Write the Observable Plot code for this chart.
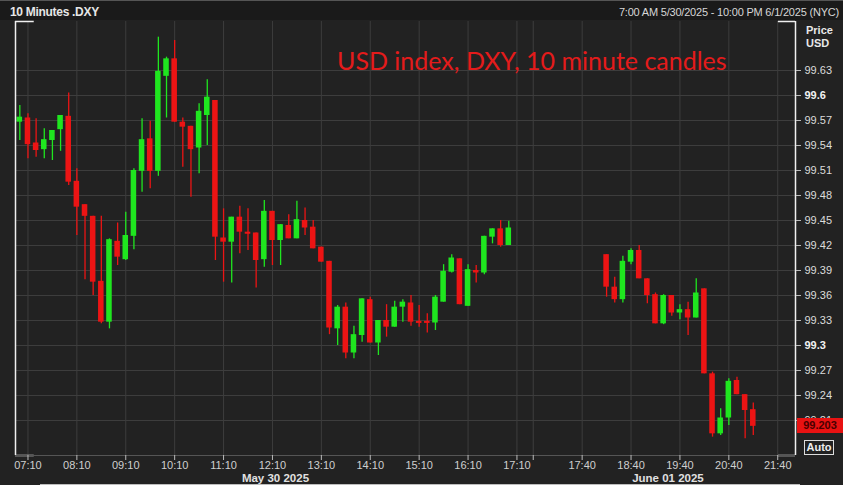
<!DOCTYPE html>
<html>
<head>
<meta charset="utf-8">
<script src="https://cdn.jsdelivr.net/npm/d3@7"></script>
<script src="https://cdn.jsdelivr.net/npm/@observablehq/plot@0.6"></script>
<style>
  html, body { margin: 0; padding: 0; background: #222; }
  #wrap { position: relative; width: 843px; height: 485px; overflow: hidden; background: #222; font-family: "Liberation Sans", Arial, sans-serif; }
  #hdr { position: absolute; left: 0; top: 0; width: 843px; height: 20px; background: #1a1a1a; border-top: 1px solid #555; box-sizing: border-box; }
  #hdr .l { position: absolute; left: 10px; top: 4px; font-size: 12px; font-weight: bold; color: #e6e6e6; letter-spacing: -0.3px; }
  #hdr .r { position: absolute; right: 4px; top: 5px; font-size: 11px; color: #d6d6d6; letter-spacing: -0.2px; }
  #chart { position: absolute; left: 0; top: 20px; }
  #title { position: absolute; left: 337px; top: 45px; font-family: Lato, sans-serif; font-size: 25px; color: #e41b1b; white-space: nowrap; }
  .ylab { position: absolute; left: 806px; font-size: 11px; font-weight: bold; color: #e8e8e8; }
  #last { position: absolute; left: 797px; width: 46px; height: 15px; background: #e81212; color: #4a0000; font-size: 11px; font-weight: bold; text-align: center; line-height: 15px; }
  #auto { position: absolute; left: 804px; top: 440px; width: 28px; height: 13px; border: 1px solid #ddd; color: #eee; font-size: 11px; font-weight: bold; text-align: center; line-height: 13px; }
  #strip { position: absolute; left: 40px; top: 483.5px; width: 760px; height: 2px; background: #bdbdbd; }
</style>
</head>
<body>
<div id="wrap">
  <div id="hdr"><span class="l">10 Minutes .DXY</span><span class="r">7:00 AM 5/30/2025 - 10:00 PM 6/1/2025 (NYC)</span></div>
  <div id="chart"></div>
  <div id="title">USD index, DXY, 10 minute candles</div>
  <div class="ylab" style="top:24px">Price</div>
  <div class="ylab" style="top:37px">USD</div>
  <div id="auto">Auto</div>
  <div id="strip"></div>
</div>
<script>
// ---- Data: 10-minute candles, Friday May 30 2025 (from 07:00) ----
const friStart = "07:00";
const friOpen  = [99.568,99.573,99.543,99.535,99.546,99.559,99.575,99.497,99.469,99.455,
                  99.377,99.328,99.425,99.403,99.431,99.509,99.548,99.509,99.623,99.644,
                  99.568,99.563,99.537,99.576,99.594,99.429,99.424,99.454,99.436,99.435,
                  99.403,99.461,99.426,99.444,99.428,99.450,99.442,99.418,99.401,99.320,
                  99.346,99.291,99.312,99.355,99.303,99.330,99.322,99.346,99.351,99.329,
                  99.329,99.327,99.352,99.388,99.404,99.347,99.390,99.387,99.430,99.440,
                  99.420];
const friHigh  = [99.588,99.578,99.572,99.560,99.558,99.576,99.603,99.512,99.469,99.455,
                  99.455,99.428,99.447,99.460,99.512,99.572,99.569,99.670,99.646,99.666,
                  99.573,99.563,99.590,99.619,99.594,99.464,99.454,99.467,99.464,99.435,
                  99.474,99.461,99.445,99.457,99.473,99.465,99.450,99.418,99.401,99.348,
                  99.351,99.323,99.356,99.358,99.330,99.349,99.353,99.355,99.360,99.348,
                  99.338,99.360,99.397,99.409,99.404,99.397,99.396,99.431,99.440,99.450,
                  99.449];
const friLow   = [99.546,99.524,99.526,99.524,99.522,99.533,99.492,99.432,99.379,99.360,
                  99.326,99.320,99.396,99.402,99.415,99.484,99.488,99.503,99.573,99.568,
                  99.514,99.478,99.506,99.540,99.402,99.376,99.375,99.410,99.414,99.369,
                  99.394,99.396,99.396,99.428,99.428,99.432,99.416,99.400,99.313,99.300,
                  99.284,99.284,99.304,99.303,99.288,99.310,99.322,99.328,99.323,99.322,
                  99.315,99.318,99.352,99.387,99.349,99.347,99.375,99.385,99.422,99.418,
                  99.420];
const friClose = [99.574,99.541,99.534,99.547,99.558,99.576,99.496,99.466,99.455,99.376,
                  99.328,99.427,99.406,99.432,99.510,99.547,99.509,99.629,99.644,99.568,
                  99.562,99.535,99.581,99.598,99.430,99.424,99.454,99.436,99.435,99.402,
                  99.461,99.426,99.445,99.428,99.451,99.441,99.416,99.400,99.321,99.346,
                  99.291,99.313,99.356,99.303,99.330,99.322,99.346,99.352,99.328,99.328,
                  99.328,99.358,99.389,99.405,99.349,99.391,99.387,99.431,99.440,99.420,
                  99.441];
// ---- Sunday June 01 2025 (from 18:10) ----
const sunStart = "18:10";
const sunOpen  = [99.409,99.370,99.355,99.400,99.414,99.380,99.361,99.326,99.360,99.339,
                  99.343,99.333,99.368,99.266,99.194,99.213,99.258,99.241,99.223];
const sunHigh  = [99.409,99.382,99.407,99.416,99.420,99.380,99.363,99.361,99.360,99.349,
                  99.352,99.380,99.368,99.268,99.224,99.260,99.262,99.241,99.231];
const sunLow   = [99.358,99.351,99.351,99.397,99.380,99.350,99.326,99.325,99.335,99.331,
                  99.312,99.333,99.266,99.190,99.192,99.204,99.241,99.188,99.192];
const sunClose = [99.370,99.355,99.401,99.414,99.380,99.360,99.326,99.360,99.339,99.343,
                  99.333,99.363,99.266,99.194,99.213,99.257,99.241,99.222,99.203];

// ---- Axis labels ----
const friTicks = ["07:10","08:10","09:10","10:10","11:10","12:10","13:10","14:10","15:10","16:10","17:10"];
const friBreak = ["17:30"];
const sunTicks = ["17:40","18:40","19:40","20:40","21:40"];
const dayLabels = ["May 30 2025", "June 01 2025"];
const yTicks = [99.21,99.24,99.27,99.3,99.33,99.36,99.39,99.42,99.45,99.48,99.51,99.54,99.57,99.6,99.63];
const yBold = [99.3, 99.6];

// ---- Build table (slot index; weekend gap compressed) ----
const mins = s => { const [h, m] = s.split(":").map(Number); return h * 60 + m; };
const SUN_SLOT0 = 72; // Sunday session's first slot after the compressed weekend gap
const friSlot = t => (mins(t) - mins(friStart)) / 10;
const sunSlot = t => SUN_SLOT0 + (mins(t) - mins(sunStart)) / 10;

const GREEN = "#1fe61f", RED = "#ec1414";
const candles = [];
friOpen.forEach((o, i) => candles.push({slot: i, o, h: friHigh[i], l: friLow[i], c: friClose[i]}));
sunOpen.forEach((o, i) => candles.push({slot: SUN_SLOT0 + i, o, h: sunHigh[i], l: sunLow[i], c: sunClose[i]}));
candles.forEach(d => {
  d.color = d.c >= d.o ? GREEN : RED;
  d.top = Math.max(d.o, d.c);
  d.bot = Math.min(d.o, d.c);
  if (d.top - d.bot < 0.0025) d.bot = d.top - 0.0025;
});

const tickSlots = friTicks.map(friSlot).concat(sunTicks.map(sunSlot));
const tickText = new Map(friTicks.map(t => [friSlot(t), t]).concat(sunTicks.map(t => [sunSlot(t), t])));
const gridSlots = tickSlots.concat(friBreak.map(friSlot));

const xDom = [-0.53, 95.18];
const yDom = [99.168, 99.6888];
const fmt = v => String(+v.toFixed(2));
const W = 843, H = 465;

const chart = Plot.plot({
  width: W, height: H,
  marginLeft: 15, marginRight: 48, marginTop: 1, marginBottom: 30,
  style: {background: "transparent", color: "#d8d8d8", fontFamily: "Liberation Sans, Arial, sans-serif", fontSize: "11px"},
  x: {domain: xDom, axis: null},
  y: {domain: yDom, axis: null},
  color: {type: "identity"},
  marks: [
    Plot.gridY(yTicks, {stroke: "#3d3d3d", strokeOpacity: 1}),
    Plot.gridX(gridSlots, {stroke: "#3d3d3d", strokeOpacity: 1}),
    Plot.ruleX(candles, {x: "slot", y1: "l", y2: "h", stroke: "color", strokeWidth: 1.3}),
    Plot.rect(candles, {x1: d => d.slot - 0.34, x2: d => d.slot + 0.34, y1: "bot", y2: "top", fill: "color"}),
    // frame: white vertical edges and corner marks
    Plot.ruleX(xDom, {stroke: "#f0f0f0", strokeWidth: 1.5}),
    Plot.ruleY([yDom[1]], {x1: xDom[0], x2: xDom[0] + 2.3, stroke: "#f0f0f0", strokeWidth: 1.5}),
    Plot.ruleY([yDom[1]], {x1: xDom[1] - 2.1, x2: xDom[1], stroke: "#f0f0f0", strokeWidth: 1.5}),
    Plot.ruleY([yDom[0]], {x1: xDom[0], x2: xDom[0] + 2.3, stroke: "#f0f0f0", strokeWidth: 1.5}),
    Plot.ruleY([yDom[0]], {x1: xDom[1] - 2.1, x2: xDom[1], stroke: "#f0f0f0", strokeWidth: 1.5}),
    Plot.ruleY([yDom[0]], {x1: xDom[0], x2: xDom[1], stroke: "#555", strokeWidth: 1}),
    // right price axis
    Plot.axisY(yTicks.filter(v => !yBold.includes(v)), {anchor: "right", tickSize: 5, tickPadding: 4, tickFormat: fmt, stroke: "#bbb", fill: "#dcdcdc", label: null}),
    Plot.axisY(yBold, {anchor: "right", tickSize: 5, tickPadding: 4, tickFormat: fmt, stroke: "#bbb", fill: "#f2f2f2", fontWeight: "bold", label: null}),
    // time axis
    Plot.axisX(gridSlots, {anchor: "bottom", tickSize: 5, tickPadding: 1, tickFormat: s => tickText.get(s) ?? "", stroke: "#bbb", fill: "#cfcfcf", label: null}),
    Plot.text([dayLabels[0]], {x: friSlot("12:10"), frameAnchor: "bottom", lineAnchor: "middle", dy: 22.5, dx: 3, text: d => d, fill: "#e0e0e0", fontWeight: "bold", fontSize: 11.5}),
    Plot.text([dayLabels[1]], {x: sunSlot("19:40"), frameAnchor: "bottom", lineAnchor: "middle", dy: 22.5, dx: -12, text: d => d, fill: "#e0e0e0", fontWeight: "bold", fontSize: 11.5})
  ]
});
document.getElementById("chart").appendChild(chart);

// last price label, positioned with the chart's own y scale
const last = candles[candles.length - 1].c;
const yPx = chart.scale("y").apply(last) + 20;
const lab = document.createElement("div");
lab.id = "last";
lab.style.top = (yPx - 7.5) + "px";
lab.textContent = last.toFixed(3);
document.getElementById("wrap").appendChild(lab);
</script>
</body>
</html>
